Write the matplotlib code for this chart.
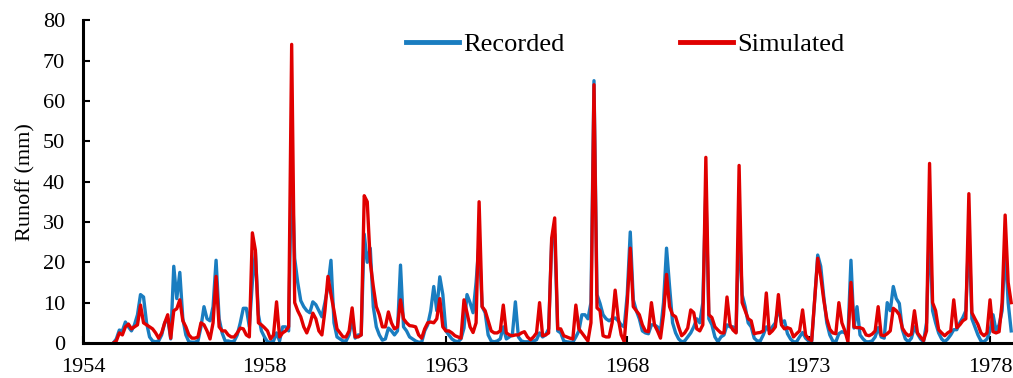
import matplotlib
matplotlib.use("Agg")
import matplotlib.pyplot as plt
import numpy as np

# Monthly runoff (mm); first value is month index 10 on the category axis
start_month = 10
recorded = [
    0.0, 1.0, 3.2, 3.0, 5.2, 4.0, 3.0, 4.5, 7.0, 12.0, 11.4, 5.0,
    1.5, 0.5, 0.3, 0.5, 2.0, 5.0, 6.0, 1.0, 19.0, 11.0, 17.5, 6.0,
    2.0, 0.3, 0.2, 0.2, 0.5, 4.0, 9.0, 6.0, 5.5, 9.0, 20.5, 6.0,
    2.5, 0.5, 0.5, 0.3, 0.5, 2.0, 5.0, 8.6, 8.6, 4.0, 15.0, 22.5,
    7.0, 3.0, 1.5, 0.3, 0.2, 0.5, 2.5, 0.5, 4.0, 4.0, 3.0, 45.0,
    21.0, 15.0, 10.5, 9.0, 8.0, 7.5, 10.2, 9.5, 8.0, 6.5, 10.0, 14.0,
    20.5, 5.0, 1.5, 1.0, 0.5, 0.5, 2.0, 6.0, 1.2, 2.0, 2.0, 27.0,
    20.0, 23.5, 9.0, 4.0, 2.0, 0.7, 1.0, 3.7, 3.0, 2.0, 3.0, 19.3,
    4.0, 3.0, 1.5, 1.0, 0.5, 0.2, 0.2, 3.0, 4.5, 8.0, 14.0, 8.0,
    16.4, 12.0, 3.0, 2.0, 1.0, 0.5, 0.3, 1.0, 3.7, 12.0, 10.0, 7.5,
    15.0, 25.0, 9.0, 7.5, 2.0, 0.5, 0.3, 0.5, 1.0, 4.0, 1.0, 1.5,
    2.0, 10.2, 1.5, 0.5, 0.3, 0.3, 0.3, 0.5, 0.8, 2.5, 1.5, 2.0,
    3.5, 25.0, 27.0, 3.0, 2.5, 0.5, 0.3, 0.2, 0.2, 1.5, 3.0, 7.0,
    7.0, 6.0, 10.0, 65.0, 12.0, 9.8, 7.0, 6.0, 5.5, 6.0, 6.2, 5.5,
    4.5, 4.0, 12.0, 27.5, 10.7, 8.0, 6.0, 3.0, 2.5, 2.3, 4.5, 4.5,
    4.0, 3.0, 10.0, 23.5, 14.0, 5.0, 2.5, 1.0, 0.3, 0.5, 1.5, 2.5,
    4.0, 6.0, 5.0, 10.0, 38.0, 6.0, 4.5, 1.5, 0.3, 1.5, 2.0, 4.5,
    4.0, 4.0, 2.7, 30.0, 12.0, 9.0, 5.0, 4.0, 1.2, 0.5, 0.5, 2.0,
    4.0, 3.0, 4.0, 5.0, 9.0, 5.0, 5.5, 2.3, 1.0, 0.3, 0.3, 1.5,
    2.6, 1.2, 0.5, 0.3, 10.7, 21.8, 19.0, 11.5, 5.0, 2.0, 0.5, 0.3,
    2.3, 2.8, 2.5, 1.8, 20.5, 3.7, 9.0, 2.0, 1.0, 0.3, 0.3, 0.5,
    1.5, 3.8, 1.5, 1.2, 10.0, 8.0, 14.0, 11.0, 9.8, 3.3, 1.0, 0.3,
    1.2, 4.0, 2.3, 1.0, 0.3, 5.0, 30.0, 8.0, 5.0, 2.5, 1.0, 0.3,
    1.0, 2.0, 3.3, 3.3, 5.0, 6.3, 8.0, 28.0, 6.0, 4.0, 2.0, 0.5,
    0.3, 1.0, 3.0, 7.0, 3.0, 4.5, 8.0, 24.0, 10.0, 3.0,
]
simulated = [
    0.0, 0.5, 2.5, 2.0, 4.0, 4.7, 3.5, 4.0, 4.5, 9.4, 5.0, 4.5,
    4.0, 3.5, 2.5, 1.2, 2.5, 5.0, 7.0, 1.2, 8.0, 8.5, 10.7, 5.5,
    4.0, 2.0, 1.2, 1.2, 1.5, 5.0, 4.5, 3.0, 1.0, 5.0, 16.5, 4.0,
    3.0, 3.0, 2.0, 1.5, 1.5, 2.5, 3.7, 3.5, 2.0, 1.5, 27.3, 23.0,
    5.0, 4.5, 3.8, 3.0, 1.0, 2.0, 10.2, 1.5, 2.5, 3.0, 4.0, 74.0,
    10.0, 8.0, 6.5, 4.0, 2.5, 4.5, 7.4, 6.0, 3.0, 2.0, 8.0, 16.5,
    12.0, 8.0, 3.5, 2.5, 1.5, 1.5, 3.0, 8.7, 1.5, 1.5, 2.0, 36.5,
    35.0, 20.0, 14.0, 9.0, 7.0, 4.0, 4.0, 7.7, 5.0, 3.5, 4.0, 10.7,
    6.0, 5.0, 4.3, 4.2, 4.0, 2.0, 1.2, 3.5, 5.0, 5.2, 5.0, 6.0,
    11.0, 4.0, 3.0, 3.0, 2.5, 1.8, 1.5, 1.2, 10.7, 7.5, 4.0, 2.6,
    5.0, 35.0, 9.0, 8.0, 5.5, 3.0, 2.5, 2.5, 3.0, 9.4, 2.5, 2.0,
    1.8, 2.0, 2.0, 2.5, 2.8, 1.5, 0.8, 1.5, 2.5, 10.0, 1.8, 2.0,
    2.5, 26.0, 31.0, 3.5, 3.5, 1.8, 1.5, 1.2, 1.0, 9.4, 3.5, 2.5,
    1.5, 0.5, 5.0, 64.0, 8.7, 8.0, 1.8, 1.5, 1.5, 5.0, 13.1, 6.2,
    2.0, 0.3, 10.0, 23.5, 9.0, 8.0, 7.0, 4.5, 3.0, 2.8, 10.0, 4.5,
    3.0, 1.2, 7.0, 17.0, 9.0, 7.0, 6.5, 4.0, 1.8, 2.5, 3.7, 8.2,
    7.5, 3.5, 3.0, 4.5, 46.0, 7.0, 6.3, 4.0, 3.2, 2.5, 2.5, 11.4,
    4.5, 3.2, 2.5, 44.0, 10.0, 8.0, 6.0, 5.5, 2.3, 2.5, 2.6, 3.0,
    12.4, 2.3, 3.0, 4.0, 12.0, 4.5, 3.5, 3.8, 3.5, 1.5, 2.3, 3.0,
    8.2, 2.0, 1.0, 0.6, 10.7, 21.0, 16.5, 10.7, 6.0, 3.4, 2.5, 2.3,
    10.0, 5.0, 3.0, 0.3, 15.0, 4.0, 3.8, 3.8, 3.5, 2.0, 1.8, 2.2,
    3.0, 9.0, 2.0, 1.8, 2.3, 3.0, 8.6, 8.0, 7.0, 3.7, 2.5, 1.8,
    2.2, 8.0, 2.5, 1.5, 0.6, 3.0, 44.5, 10.0, 8.0, 3.3, 2.5, 1.8,
    2.5, 3.0, 10.7, 3.8, 4.5, 5.5, 6.0, 37.0, 7.5, 6.0, 4.6, 2.5,
    1.8, 2.5, 10.7, 2.8, 2.5, 2.8, 10.0, 31.7, 15.0, 10.0,
]
tick_months = [0, 60, 120, 180, 240, 300]
tick_labels = ["1954", "1958", "1963", "1968", "1973", "1978"]

plt.rcParams["font.family"] = ["Liberation Serif", "DejaVu Serif"]

fig = plt.figure(figsize=(10.13, 3.78), dpi=100)
ax = fig.add_axes([0.082, 0.0926, 0.918, 0.854])

x = np.arange(start_month, start_month + len(recorded))
ax.plot(x, recorded, color="#1A7DC0", lw=2.4, label="Recorded", solid_joinstyle="round")
ax.plot(x, simulated, color="#E00000", lw=2.4, label="Simulated", solid_joinstyle="round")

ax.set_xlim(0, 307.6)
ax.set_ylim(0, 80)
ax.set_yticks(range(0, 81, 10))
ax.set_xticks(tick_months)
ax.set_xticklabels(tick_labels)
ax.tick_params(axis="both", direction="in", length=5, width=1.5, labelsize=16, colors="black")
ax.tick_params(axis="x", pad=11)
ax.tick_params(axis="y", pad=13)
ax.set_ylabel("Runoff (mm)", fontsize=16, labelpad=5)

for s in ["top", "right"]:
    ax.spines[s].set_visible(False)
for s in ["left", "bottom"]:
    ax.spines[s].set_linewidth(2.2)
    ax.spines[s].set_color("black")

leg = ax.legend(loc="center", bbox_to_anchor=(0.583, 0.924), ncol=2, frameon=False,
                fontsize=19, handlelength=2.0, handletextpad=0.15, columnspacing=4.4)
for line in leg.get_lines():
    line.set_linewidth(3.5)

fig.savefig("out.png", dpi=100)
